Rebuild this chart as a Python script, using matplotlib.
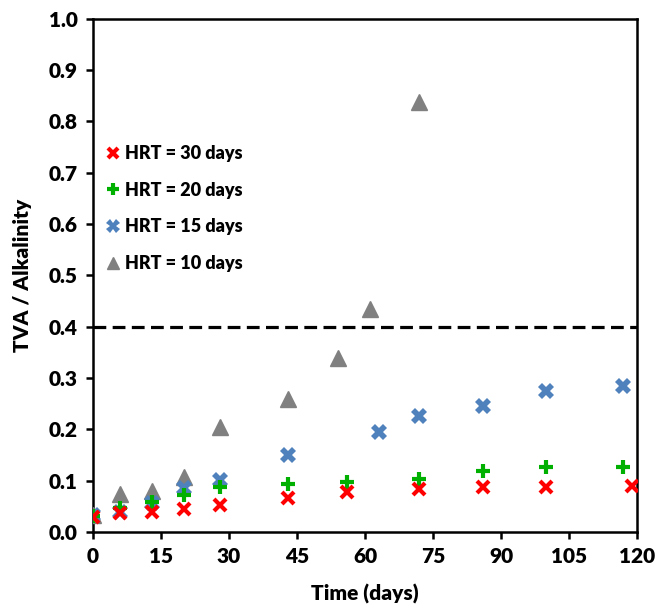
import matplotlib
matplotlib.use("Agg")
import matplotlib.pyplot as plt

plt.rcParams["font.family"] = ["Lato", "DejaVu Sans"]
plt.rcParams["font.weight"] = "heavy"

# HRT = 30 days
days_30 = [0, 6, 13, 20, 28, 43, 56, 72, 86, 100, 119]
ratio_30 = [0.030, 0.037, 0.039, 0.045, 0.053, 0.066, 0.078, 0.084, 0.088, 0.088, 0.090]
# HRT = 20 days
days_20 = [0, 6, 13, 20, 28, 43, 56, 72, 86, 100, 117]
ratio_20 = [0.032, 0.047, 0.058, 0.072, 0.088, 0.093, 0.097, 0.103, 0.119, 0.126, 0.127]
# HRT = 15 days
days_15 = [0, 6, 13, 20, 28, 43, 63, 72, 86, 100, 117]
ratio_15 = [0.033, 0.039, 0.056, 0.086, 0.101, 0.150, 0.195, 0.226, 0.245, 0.274, 0.284]
# HRT = 10 days
days_10 = [0, 6, 13, 20, 28, 43, 54, 61, 72]
ratio_10 = [0.033, 0.074, 0.080, 0.107, 0.205, 0.260, 0.340, 0.434, 0.837]

threshold = 0.4
x_ticks = [0, 15, 30, 45, 60, 75, 90, 105, 120]
y_ticks = [0.0, 0.1, 0.2, 0.3, 0.4, 0.5, 0.6, 0.7, 0.8, 0.9, 1.0]

fig = plt.figure(figsize=(6.57, 6.08), dpi=100)
ax = fig.add_axes([0.1416, 0.125, 0.828, 0.844])

ax.plot(days_10, ratio_10, linestyle="none", marker="^", markersize=11,
        color="#808080", label="HRT = 10 days", zorder=3)
ax.plot(days_15, ratio_15, linestyle="none", marker="X", markersize=11.5,
        color="#4f81bd", markeredgewidth=0, label="HRT = 15 days", zorder=4)
ax.plot(days_20, ratio_20, linestyle="none", marker="+", markersize=10,
        markeredgewidth=3, color="#00b000", label="HRT = 20 days", zorder=5)
ax.plot(days_30, ratio_30, linestyle="none", marker="x", markersize=8.5,
        markeredgewidth=3, color="#ff0000", label="HRT = 30 days", zorder=6)

ax.axhline(threshold, color="black", linestyle=(0, (4, 2)), linewidth=2.3, zorder=2)

ax.set_xlim(0, 120)
ax.set_ylim(0, 1.0)
ax.set_xticks(x_ticks)
ax.set_yticks(y_ticks)
ax.set_yticklabels([f"{v:.1f}" for v in y_ticks])

for s in ax.spines.values():
    s.set_linewidth(1.8)
ax.tick_params(direction="out", length=5, width=1.8, labelsize=15, pad=6)
for lbl in ax.get_xticklabels() + ax.get_yticklabels():
    lbl.set_fontweight("heavy")

ax.set_xlabel("Time (days)", fontsize=15, fontweight="heavy", labelpad=13)
ax.set_ylabel("TVA / Alkalinity", fontsize=15, fontweight="heavy", labelpad=12)

handles, labels = ax.get_legend_handles_labels()
order = [3, 2, 1, 0]
leg = ax.legend([handles[i] for i in order], [labels[i] for i in order],
                loc="upper left", bbox_to_anchor=(0.025, 0.754), frameon=False,
                prop={"weight": "heavy", "size": 13},
                labelspacing=1.09, handlelength=0.7, handletextpad=0.3,
                borderpad=0, borderaxespad=0, markerscale=0.85)

fig.savefig("out.png", dpi=100)
